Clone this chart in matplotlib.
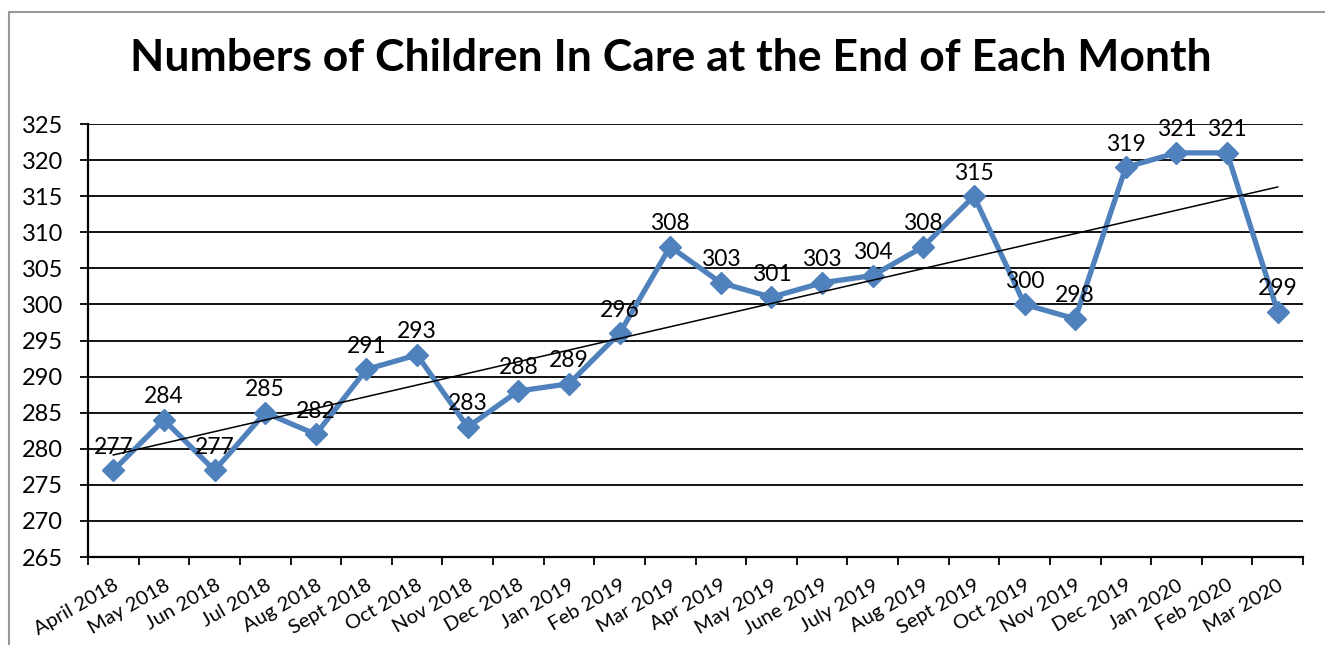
import numpy as np
import matplotlib.pyplot as plt
from matplotlib.patches import Rectangle

months = ["April 2018", "May 2018", "Jun 2018", "Jul 2018", "Aug 2018", "Sept 2018",
          "Oct 2018", "Nov 2018", "Dec 2018", "Jan 2019", "Feb 2019", "Mar 2019",
          "Apr 2019", "May 2019", "June 2019", "July 2019", "Aug 2019", "Sept 2019",
          "Oct 2019", "Nov 2019", "Dec 2019", "Jan 2020", "Feb 2020", "Mar 2020"]
children = [277, 284, 277, 285, 282, 291, 293, 283, 288, 289, 296, 308,
            303, 301, 303, 304, 308, 315, 300, 298, 319, 321, 321, 299]

plt.rcParams['font.family'] = ['Lato', 'DejaVu Sans']

fig = plt.figure(figsize=(13.25, 6.45), dpi=100)
ax = fig.add_axes([88 / 1325, 1 - 557 / 645, (1303 - 88) / 1325, (557 - 124) / 645])

# outer chart border (only top/left visible in the crop)
fig.patches.append(Rectangle((9 / 1325, -0.1), 1.2, 1 - 12 / 645 + 0.1,
                             transform=fig.transFigure, fill=False,
                             edgecolor='#999999', lw=1.5))

x = np.arange(len(months))
ax.plot(x, children, color='#4F81BD', lw=3.8, marker='D', markersize=11,
        solid_joinstyle='miter', zorder=3)

# linear trendline
slope, intercept = np.polyfit(x, children, 1)
ax.plot(x, slope * x + intercept, color='black', lw=1.1, zorder=4)

for xi, v in zip(x, children):
    ax.annotate(str(v), (xi, v), xytext=(0, 12), textcoords='offset points',
                ha='center', va='baseline', fontsize=16.5, zorder=5)

ax.set_xlim(-0.5, len(months) - 0.5)
ax.set_ylim(265, 325)
ax.set_yticks(np.arange(265, 326, 5))
ax.grid(axis='y', color='black', lw=1.3)
ax.set_axisbelow(True)
ax.tick_params(axis='y', labelsize=17, length=6, width=1.3, direction='out', pad=12)

ax.set_xticks(x)
ax.set_xticklabels(months, rotation=30, ha='right', rotation_mode='anchor', fontsize=14.5)
ax.tick_params(axis='x', which='major', length=0, pad=14)
ax.set_xticks(np.arange(-0.5, len(months), 1), minor=True)
ax.tick_params(axis='x', which='minor', length=6, width=1.3, direction='out')

for s in ['top', 'right']:
    ax.spines[s].set_visible(False)
for s in ['left', 'bottom']:
    ax.spines[s].set_linewidth(1.6)

fig.text(0.506, 1 - 58 / 645, "Numbers of Children In Care at the End of Each Month",
         ha='center', va='center', fontsize=32, fontweight='bold')

fig.savefig('out.png', dpi=100)
